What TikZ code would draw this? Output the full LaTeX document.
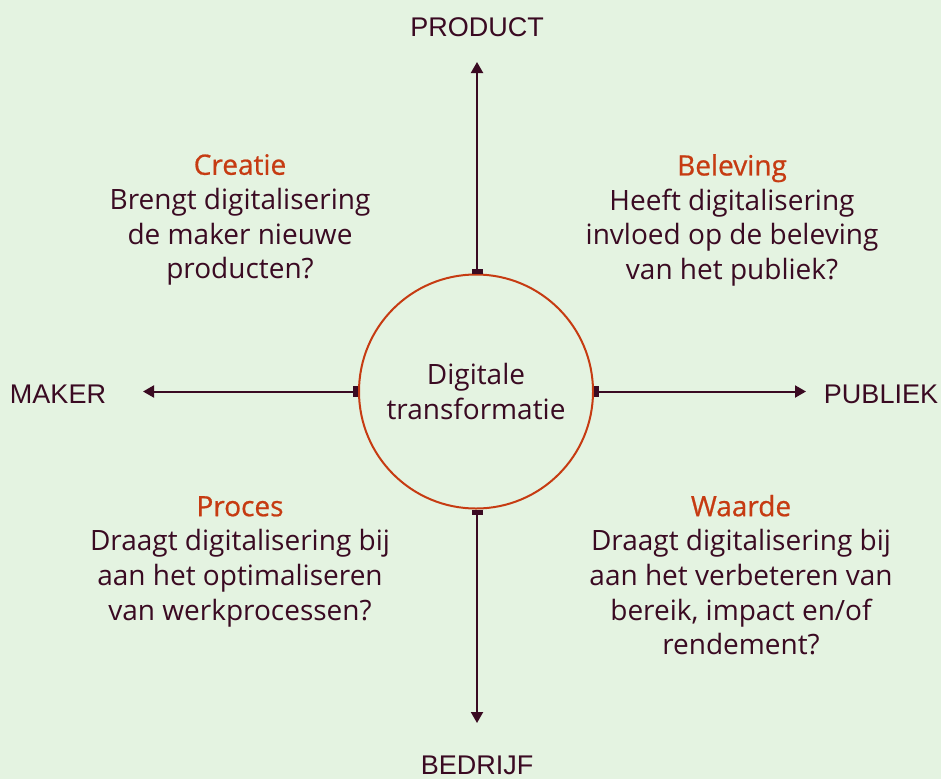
\documentclass[tikz,border=0pt]{standalone}
\usepackage{fontspec}
\setmainfont{Open Sans}
\newfontfamily\labelfont{Liberation Sans}
\usetikzlibrary{arrows.meta}
\definecolor{bg}{HTML}{E4F3E1}
\definecolor{ink}{HTML}{3A0A22}
\definecolor{rust}{HTML}{C63B12}
\newcommand{\ttlfont}{\addfontfeature{FakeBold=0.7}\color{rust}}
\tikzset{
  body/.style={text=ink, align=center, font=\fontsize{28}{34.7}\selectfont, inner sep=0pt, anchor=north},
  axislabel/.style={text=ink, font=\labelfont\fontsize{27}{30}\selectfont, inner sep=0pt, anchor=base},
  hub/.style={circle, draw=rust, line width=2pt, minimum size=234pt, inner sep=0pt, text=ink, align=center, font=\fontsize{28}{35}\selectfont},
  axis/.style={draw=ink, line width=2pt, {Rectangle[length=5pt,width=11pt]}-{Triangle[length=11pt,width=12pt]}}
}
\begin{document}
\begin{tikzpicture}[x=1pt,y=-1pt]
\fill[bg] (0,0) rectangle (941,779);
\useasboundingbox (0,0) rectangle (941,779);
\node[hub] (c) at (476,391.5) {Digitale\\transformatie};
\node[axislabel] (prod) at (477,36) {PRODUCT};
\node[axislabel] (maker) at (58,403) {MAKER};
\node[axislabel] (pub) at (881,403) {PUBLIEK};
\node[axislabel] (bed) at (477,774) {BEDRIJF};
\coordinate (tp) at (477,62);
\coordinate (bt) at (477,723);
\coordinate (lf) at (143,391.5);
\coordinate (rt) at (806,391.5);
\draw[axis] (c.north -| tp) -- (tp);
\draw[axis] (c.south -| bt) -- (bt);
\draw[axis] (c.west |- lf) -- (lf);
\draw[axis] (c.east |- rt) -- (rt);
\node[body] (creatie) at (240,154) {{\ttlfont Creatie}\\Brengt digitalisering\\de maker nieuwe\\producten?};
\node[body] (beleving) at (732,154) {{\ttlfont Beleving}\\Heeft digitalisering\\invloed op de beleving\\van het publiek?};
\node[body] (proces) at (240,496) {{\ttlfont Proces}\\Draagt digitalisering bij\\aan het optimaliseren\\van werkprocessen?};
\node[body] (waarde) at (741,494.7) {{\ttlfont Waarde}\\Draagt digitalisering bij\\aan het verbeteren van\\bereik, impact en/of\\rendement?};
\end{tikzpicture}
\end{document}
